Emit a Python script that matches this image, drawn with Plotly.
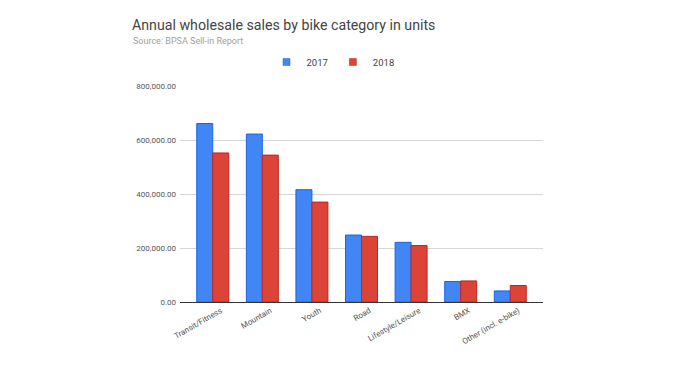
import plotly.graph_objects as go

categories = ["Transit/Fitness", "Mountain", "Youth", "Road", "Lifestyle/Leisure", "BMX", "Other (incl. e-bike)"]
sales_2017 = [661000, 622000, 416000, 248000, 221000, 76000, 41000]
sales_2018 = [552000, 544000, 370000, 243000, 209000, 78000, 61000]
y_ticks = [0, 200000, 400000, 600000, 800000]

BLUE, BLUE_EDGE = "#4285F4", "#1a66e0"
RED, RED_EDGE = "#DB4437", "#c5221f"

fig = go.Figure()
fig.add_trace(go.Bar(name="2017", x=categories, y=sales_2017, showlegend=False, legendgroup="2017",
                     marker=dict(color=BLUE, line=dict(color=BLUE_EDGE, width=1))))
fig.add_trace(go.Bar(name="2018", x=categories, y=sales_2018, showlegend=False, legendgroup="2018",
                     marker=dict(color=RED, line=dict(color=RED_EDGE, width=1))))
# legend entries with small square swatches
fig.add_trace(go.Scatter(name="2017", x=[None], y=[None], mode="markers", legendgroup="2017",
                         marker=dict(symbol="square", size=7, color=BLUE, line=dict(color=BLUE_EDGE, width=0.5))))
fig.add_trace(go.Scatter(name="2018", x=[None], y=[None], mode="markers", legendgroup="2018",
                         marker=dict(symbol="square", size=7, color=RED, line=dict(color=RED_EDGE, width=0.5))))

# page body has an 8px offset; positions below are shifted accordingly
fig.update_layout(
    width=676, height=380,
    margin=dict(l=172, r=141, t=78, b=86, autoexpand=False),
    paper_bgcolor="white", plot_bgcolor="white",
    font=dict(family="Roboto, Arial, sans-serif", color="#444"),
    bargap=0.355, bargroupgap=0,
    title=dict(
        text="Annual wholesale sales by bike category in units",
        x=124/676, xanchor="left", y=1-17.5/380, yanchor="middle",
        font=dict(size=14.2, color="#444"),
    ),
    annotations=[dict(text="Source: BPSA Sell-in Report", xref="paper", yref="paper",
                      x=-48/363, y=(294 - 32.5) / 216, xanchor="left", yanchor="middle",
                      showarrow=False, xshift=-1, font=dict(size=9, color="#a0a0a0"))],
    legend=dict(orientation="h", x=325/676, xanchor="center", y=1-54/380, yanchor="middle",
                yref="container", xref="container", font=dict(size=9.5, color="#444"),
                itemwidth=30, traceorder="normal"),
    showlegend=True,
)
fig.update_yaxes(range=[0, 800000], tickvals=y_ticks, tickformat=",.2f",
                 gridcolor="#d6d6d6", gridwidth=1, zeroline=False, automargin=False,
                 tickfont=dict(size=8, color="#555"), ticks="", ticklabelstandoff=3,
                 showline=False)
fig.update_xaxes(range=[-0.66, 6.66], tickangle=-30, tickfont=dict(size=8, color="#555"),
                 automargin=False, showline=True, linecolor="#333", linewidth=1, ticks="",
                 ticklabelshift=8)

fig.write_html("out.html")
